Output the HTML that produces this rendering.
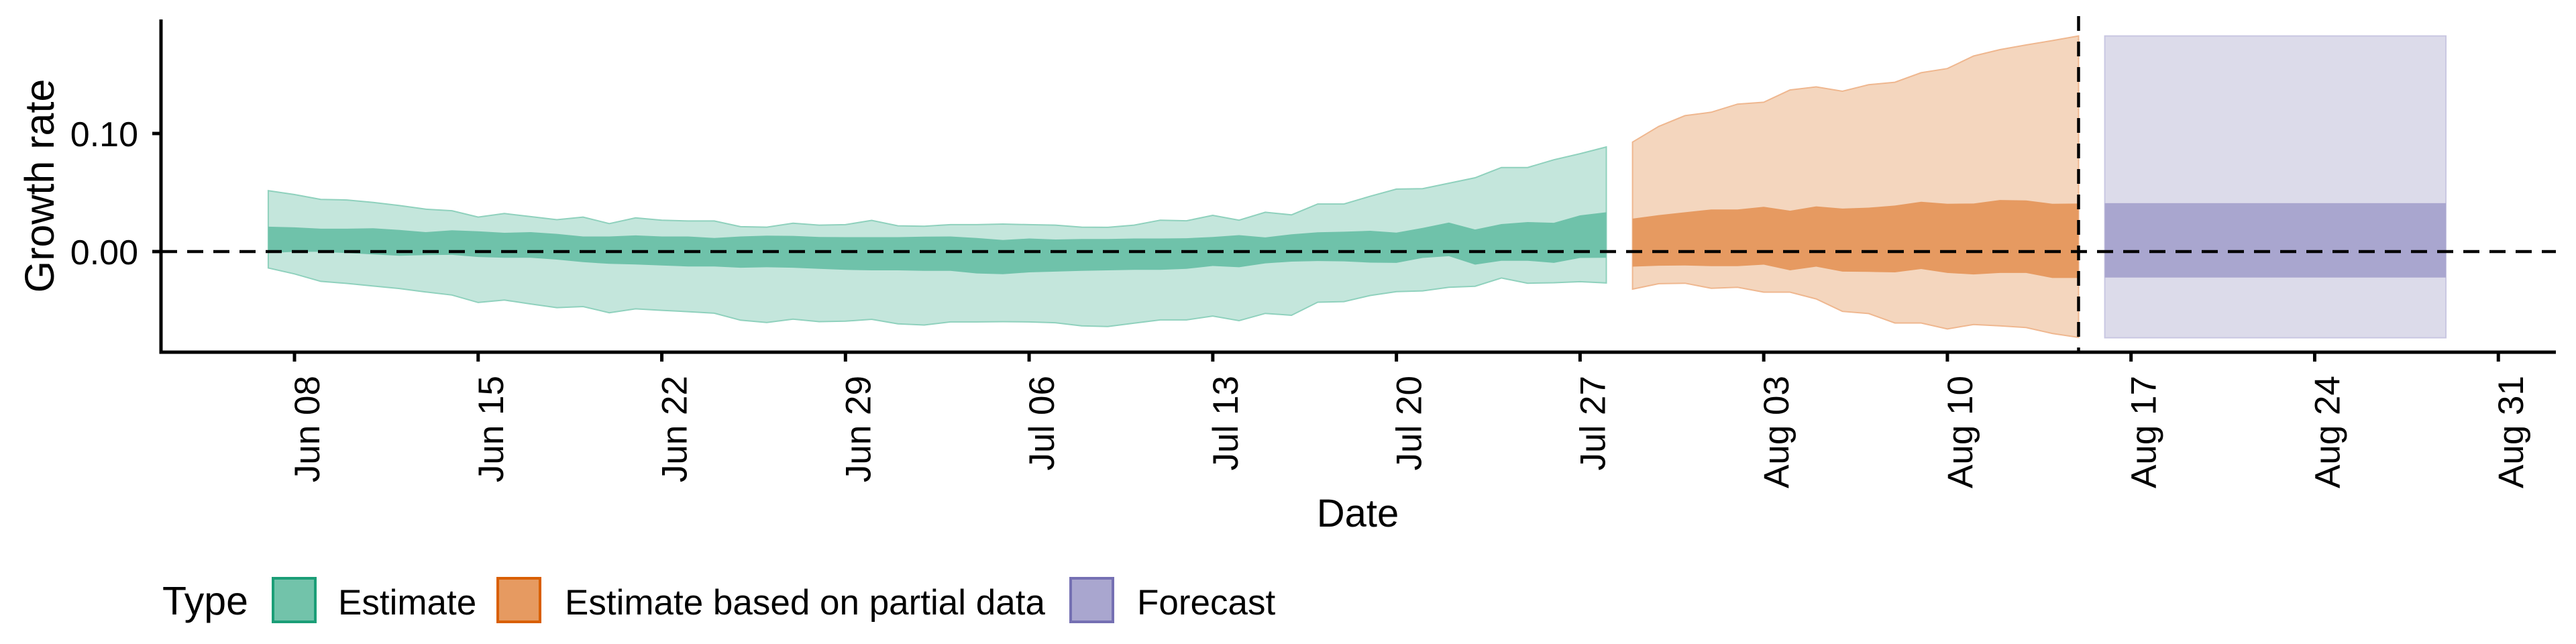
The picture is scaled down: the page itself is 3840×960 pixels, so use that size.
<!DOCTYPE html>
<html><head><meta charset="utf-8"><style>
html,body{margin:0;padding:0;background:#fff;}
svg{display:block;font-family:"Liberation Sans",Arial,sans-serif;}
</style></head><body>
<svg id="chart" width="3840" height="960" viewBox="0 0 3840 960" xmlns="http://www.w3.org/2000/svg">
<g id="bands"></g>
<g id="axes"></g>
<g id="legend">
  <text x="242" y="916" font-size="59">Type</text>
  <rect x="407" y="862" width="63" height="65" fill="#72c3aa" stroke="#1b9e77" stroke-width="4"/>
  <text x="504" y="916" font-size="53">Estimate</text>
  <rect x="742" y="862" width="63" height="65" fill="#e69a61" stroke="#d95f02" stroke-width="4"/>
  <text x="842" y="916" font-size="53">Estimate based on partial data</text>
  <rect x="1596" y="862" width="63" height="65" fill="#a9a6cf" stroke="#7570b3" stroke-width="4"/>
  <text x="1695" y="916" font-size="53">Forecast</text>
</g>
</svg>
<script>
// ---- data ----
const estStartDay = -1; // Jun 07 (relative to Jun 08)
const estUpper90 = [0.0516,0.0483,0.0442,0.0437,0.0416,0.039,0.0359,0.0346,0.0292,0.0322,0.0296,0.027,0.0292,0.0237,0.0285,0.0266,0.0259,0.0259,0.0211,0.0207,0.024,0.0224,0.0228,0.0264,
 0.0218,0.0215,0.0228,0.0228,0.0233,0.0228,0.0224,0.0207,0.0205,0.0224,0.0266,0.0261,0.0307,0.0266,0.0333,0.0311,0.0403,0.0403,0.0468,0.0529,0.0533,0.0579,0.0625,0.0712,0.0712,0.0777,0.0829,0.0886];
const estUpper50 = [0.0211,0.0205,0.0194,0.0194,0.0198,0.0183,0.0165,0.018,0.0172,0.0159,0.0165,0.015,0.0128,0.0128,0.0137,0.0128,0.0128,0.0115,0.0128,0.0135,0.0133,0.0124,0.0122,0.0122,
 0.0122,0.0126,0.0128,0.0115,0.0098,0.0111,0.0102,0.0107,0.0107,0.0111,0.0111,0.0113,0.0124,0.0139,0.012,0.0146,0.0163,0.0168,0.0176,0.0161,0.02,0.0246,0.0187,0.0233,0.025,0.0244,0.0307,0.0333];
const estLower50 = [-0.0013,-0.0002,-0.0002,-0.0013,-0.0024,-0.0035,-0.003,-0.0028,-0.0046,-0.0052,-0.0052,-0.0068,-0.009,-0.0104,-0.0109,-0.0118,-0.0126,-0.0126,-0.0137,-0.0133,-0.0137,-0.0146,-0.0155,-0.0159,
 -0.0159,-0.0163,-0.0163,-0.0185,-0.0192,-0.0176,-0.017,-0.0163,-0.0159,-0.0155,-0.0155,-0.0146,-0.0122,-0.0133,-0.01,-0.0085,-0.008,-0.0083,-0.0094,-0.0096,-0.0054,-0.0039,-0.0111,-0.0078,-0.0078,-0.0096,-0.0054,-0.0052];
const estLower90 = [-0.0139,-0.0189,-0.0252,-0.027,-0.0292,-0.0313,-0.0342,-0.0368,-0.0431,-0.0411,-0.0444,-0.0475,-0.0466,-0.0518,-0.0485,-0.0498,-0.0509,-0.0522,-0.0581,-0.0601,-0.0572,-0.0594,-0.059,-0.0574,
 -0.0612,-0.0622,-0.0596,-0.0596,-0.0594,-0.0596,-0.0603,-0.0629,-0.0635,-0.0607,-0.0579,-0.0579,-0.0546,-0.0585,-0.0524,-0.054,-0.0429,-0.0424,-0.0372,-0.0339,-0.0333,-0.0303,-0.0294,-0.0224,-0.0268,-0.0264,-0.0255,-0.0266];
const partStartDay = 51; // Jul 29
const partUpper90 = [0.0927,0.106,0.1151,0.118,0.1249,0.1265,0.1369,0.1395,0.1358,0.1413,0.1434,0.1515,0.155,0.1656,0.171,0.175,0.1787,0.1826];
const partUpper50 = [0.0279,0.0309,0.0333,0.0357,0.0357,0.0379,0.0346,0.0383,0.0364,0.0372,0.039,0.0422,0.0405,0.0407,0.0437,0.0433,0.0405,0.0407];
const partLower50 = [-0.0128,-0.012,-0.0118,-0.0124,-0.0124,-0.0111,-0.0159,-0.0128,-0.017,-0.0172,-0.0176,-0.0148,-0.0181,-0.0194,-0.0181,-0.0181,-0.0224,-0.0224];
const partLower90 = [-0.0318,-0.0272,-0.0268,-0.0311,-0.0303,-0.0344,-0.0344,-0.0401,-0.0507,-0.0525,-0.0605,-0.0605,-0.0655,-0.0618,-0.0629,-0.0644,-0.0694,-0.0727];
const fcDays = [69, 82];
const fcBand90 = [-0.073, 0.1826];
const fcBand50 = [-0.022, 0.041];
const forecastDay = 68;
const xTickDays = [0,7,14,21,28,35,42,49,56,63,70,77,84];
const xTickLabels = ["Jun 08","Jun 15","Jun 22","Jun 29","Jul 06","Jul 13","Jul 20","Jul 27","Aug 03","Aug 10","Aug 17","Aug 24","Aug 31"];
const yTicks = [0, 0.1];
const yTickLabels = ["0.00","0.10"];

// ---- scales ----
const X0 = 439, PX_DAY = 39.11, Y0 = 375, PX_UNIT = 1760;
const PL = 240, PR = 3810, PT = 29, PB = 525;
const xs = d => X0 + d * PX_DAY;
const ys = v => Y0 - v * PX_UNIT;
const NS = "http://www.w3.org/2000/svg";
const bands = document.getElementById('bands');
const axes = document.getElementById('axes');
function mk(tag, attrs, parent){ const e=document.createElementNS(NS,tag); for(const k in attrs) e.setAttribute(k,attrs[k]); parent.appendChild(e); return e; }
function ribbon(start, up, lo){
  const pts=[];
  up.forEach((v,i)=>pts.push(xs(start+i).toFixed(1)+','+ys(v).toFixed(1)));
  for(let i=lo.length-1;i>=0;i--) pts.push(xs(start+i).toFixed(1)+','+ys(lo[i]).toFixed(1));
  return pts.join(' ');
}
let p;
p = mk('polygon',{points:ribbon(estStartDay,estUpper90,estLower90),fill:'#c4e6dc',stroke:'#8fd1bd','stroke-width':2},bands);


p = mk('polygon',{points:ribbon(estStartDay,estUpper50,estLower50),fill:'#6fc2aa'},bands);


p = mk('polygon',{points:ribbon(partStartDay,partUpper90,partLower90),fill:'#f4d6be',stroke:'#efb78f','stroke-width':2},bands);


p = mk('polygon',{points:ribbon(partStartDay,partUpper50,partLower50),fill:'#e69a61'},bands);


p = mk('rect',{x:xs(fcDays[0]),y:ys(fcBand90[1]),width:xs(fcDays[1])-xs(fcDays[0]),height:ys(fcBand90[0])-ys(fcBand90[1]),fill:'#dcdbea',stroke:'#c9c7e2','stroke-width':2},bands);


p = mk('rect',{x:xs(fcDays[0]),y:ys(fcBand50[1]),width:xs(fcDays[1])-xs(fcDays[0]),height:ys(fcBand50[0])-ys(fcBand50[1]),fill:'#a9a6cf'},bands);



// reference lines
p = mk('line',{x1:PL,x2:PR,y1:ys(0),y2:ys(0),stroke:'#000','stroke-width':4.5,'stroke-dasharray':'24 15'},axes);


p = mk('line',{x1:xs(forecastDay),x2:xs(forecastDay),y1:PT-5,y2:PB,stroke:'#000','stroke-width':4.5,'stroke-dasharray':'22 16'},axes);



// axes
p = mk('path',{d:`M${PL},${PT} V${PB} H${PR}`,fill:'none',stroke:'#000','stroke-width':5},axes);


yTicks.forEach((v,i)=>{
  const t=mk('line',{x1:PL-13,x2:PL,y1:ys(v),y2:ys(v),stroke:'#000','stroke-width':5},axes);
  
  
  const l=mk('text',{x:206,y:ys(v)+19,'font-size':52,'text-anchor':'end'},axes);
  l.textContent=yTickLabels[i];
  
  
});
xTickDays.forEach((d,i)=>{
  const x=xs(d);
  const t=mk('line',{x1:x,x2:x,y1:PB,y2:PB+14,stroke:'#000','stroke-width':5},axes);
  
  
  const l=mk('text',{x:0,y:0,'font-size':53,'text-anchor':'end',transform:`translate(${x+37},560) rotate(-90)`},axes);
  l.textContent=xTickLabels[i];
  
  
});
p = mk('text',{x:2024,y:785,'font-size':58,'text-anchor':'middle'},axes);
p.textContent='Date';


p = mk('text',{x:0,y:0,'font-size':61,'text-anchor':'middle',transform:'translate(80,277) rotate(-90)'},axes);
p.textContent='Growth rate';


</script>
</body></html>
